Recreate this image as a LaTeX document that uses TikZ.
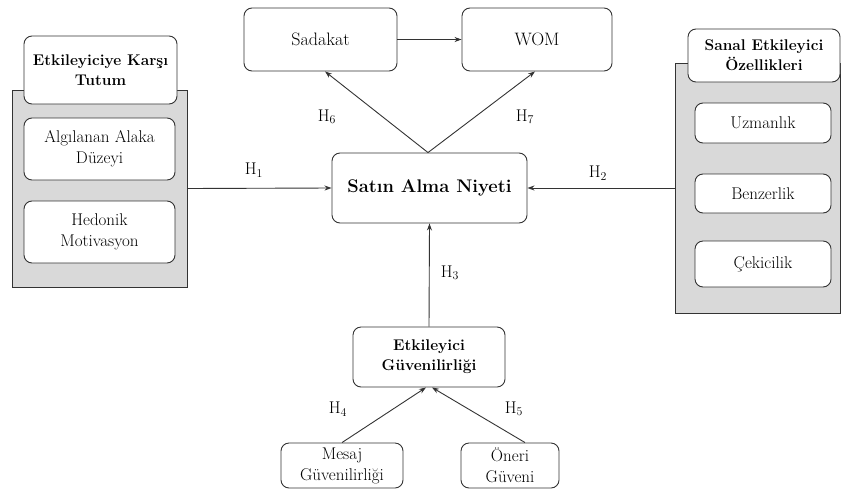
\documentclass[tikz,border=0pt]{standalone}
\usepackage{fontspec}
\usetikzlibrary{arrows.meta}
\definecolor{grayfill}{HTML}{D9D9D9}
\definecolor{linec}{HTML}{333333}
\tikzset{
  rbox/.style={draw=linec, line width=0.9pt, rounded corners=8pt, fill=white, align=center, inner sep=0pt, font=\fontsize{17}{21}\selectfont},
  tbox/.style={rbox, font=\fontsize{15.5}{20}\selectfont\bfseries},
  gbox/.style={draw=linec, line width=0.9pt, fill=grayfill, inner sep=0pt},
  arr/.style={draw=linec, line width=0.9pt, -{Stealth[length=7pt,width=5pt]}},
  hl/.style={font=\fontsize{17}{20}\selectfont, inner sep=0pt}
}
\begin{document}
\begin{tikzpicture}[x=1pt,y=-1pt]
\useasboundingbox (0,0) rectangle (842,490);
% left group
\node[gbox, minimum width=175, minimum height=197] (lg) at (99.5,188.5) {};
\node[tbox, minimum width=153, minimum height=68] (lt) at (100.5,70) {Etkileyiciye Karşı\\Tutum};
\node[rbox, minimum width=151, minimum height=62] (alg) at (99.5,149) {Algılanan Alaka\\Düzeyi};
\node[rbox, minimum width=151, minimum height=62] (hed) at (99.5,232) {Hedonik\\Motivasyon};
% right group
\node[gbox, minimum width=165, minimum height=250] (rg) at (757.5,188) {};
\node[tbox, minimum width=152, minimum height=53] (rt) at (764,55.5) {Sanal Etkileyici\\Özellikleri};
\node[rbox, minimum width=136, minimum height=40] (uzm) at (763,123) {Uzmanlık};
\node[rbox, minimum width=136, minimum height=39] (ben) at (763,193.5) {Benzerlik};
\node[rbox, minimum width=136, minimum height=46] (cek) at (763,264) {Çekicilik};
% top
\node[rbox, minimum width=153, minimum height=63, font=\fontsize{18}{22}\selectfont] (sad) at (320.5,39.5) {Sadakat};
\node[rbox, minimum width=150, minimum height=63, font=\fontsize{18}{22}\selectfont] (wom) at (537,39.5) {WOM};
% center
\node[rbox, minimum width=195, minimum height=70, font=\fontsize{18.3}{24}\selectfont\bfseries] (sat) at (429.5,188) {Satın Alma Niyeti};
\node[tbox, minimum width=152, minimum height=60] (etk) at (429,357) {Etkileyici\\Güvenilirliği};
\node[rbox, minimum width=122, minimum height=45] (mes) at (342,465.5) {Mesaj\\Güvenilirliği};
\node[rbox, minimum width=98, minimum height=45] (one) at (510,465.5) {Öneri\\Güveni};
% arrows
\draw[arr] (lg.east) -- (sat.west);
\draw[arr] (rg.west) -- (sat.east);
\draw[arr] (etk.north) -- (sat.south);
\draw[arr] ([xshift=-1.5]sat.north) -- ([xshift=4.5]sad.south);
\draw[arr] ([xshift=-1.5]sat.north) -- ([xshift=-2]wom.south);
\draw[arr] (sad.east) -- (wom.west);
\draw[arr] (mes.north) -- ([xshift=-3]etk.south);
\draw[arr] ([xshift=15]one.north) -- ([xshift=3]etk.south);
% labels
\node[hl] (h1) at (254,170) {H\textsubscript{1}};
\node[hl] (h2) at (598,173) {H\textsubscript{2}};
\node[hl] (h3) at (450,273) {H\textsubscript{3}};
\node[hl] (h4) at (338,409) {H\textsubscript{4}};
\node[hl] (h5) at (514,409) {H\textsubscript{5}};
\node[hl] (h6) at (327,117) {H\textsubscript{6}};
\node[hl] (h7) at (525,117) {H\textsubscript{7}};
\end{tikzpicture}
\end{document}
